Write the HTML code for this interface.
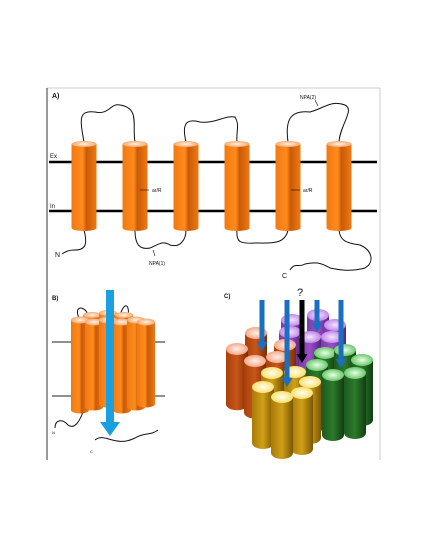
<!DOCTYPE html>
<html><head><meta charset="utf-8"><style>
body{margin:0;background:#fff;}
svg{display:block;font-family:"Liberation Sans",sans-serif;}
</style></head><body>
<svg id="fig" width="425" height="550" viewBox="0 0 425 550">
<defs>
<linearGradient id="gO" x1="0" x2="1"><stop offset="0" stop-color="#f07a12"/><stop offset="0.45" stop-color="#ff8a1c"/><stop offset="0.6" stop-color="#c85a08"/><stop offset="1" stop-color="#f07a12"/></linearGradient>
<radialGradient id="tO"><stop offset="0" stop-color="#fff2e0"/><stop offset="1" stop-color="#f6a870"/></radialGradient>
<linearGradient id="gBr" x1="0" x2="1"><stop offset="0" stop-color="#a8400a"/><stop offset="0.5" stop-color="#c9561a"/><stop offset="1" stop-color="#7a2c05"/></linearGradient>
<radialGradient id="tBr"><stop offset="0" stop-color="#fff0e8"/><stop offset="1" stop-color="#f4a888"/></radialGradient>
<linearGradient id="gP" x1="0" x2="1"><stop offset="0" stop-color="#7a3aa8"/><stop offset="0.5" stop-color="#9a50c8"/><stop offset="1" stop-color="#5a2080"/></linearGradient>
<radialGradient id="tP"><stop offset="0" stop-color="#f4e4ff"/><stop offset="1" stop-color="#c088e8"/></radialGradient>
<linearGradient id="gG" x1="0" x2="1"><stop offset="0" stop-color="#1e5a1e"/><stop offset="0.5" stop-color="#2c7a2c"/><stop offset="1" stop-color="#123c12"/></linearGradient>
<radialGradient id="tG"><stop offset="0" stop-color="#e8ffe8"/><stop offset="1" stop-color="#6cc86c"/></radialGradient>
<linearGradient id="gY" x1="0" x2="1"><stop offset="0" stop-color="#a87a08"/><stop offset="0.5" stop-color="#d0a018"/><stop offset="1" stop-color="#7a5604"/></linearGradient>
<radialGradient id="tY"><stop offset="0" stop-color="#fffff0"/><stop offset="1" stop-color="#f8e070"/></radialGradient>
</defs>
<g stroke="#ccc" fill="none">
<line x1="47" y1="88" x2="380" y2="88"/><line x1="380" y1="88" x2="380" y2="460"/>
<line x1="47" y1="88" x2="47" y2="460" stroke="#333"/>
</g>
<g id="panelA"></g>
<g id="panelB"></g>
<g id="panelC"></g>
</svg>
<script>
const NS="http://www.w3.org/2000/svg";
const tmCenters=[84,135,186,237,288,339];
function mk(p,tag,at){const e=document.createElementNS(NS,tag);for(const k in at)e.setAttribute(k,at[k]);p.appendChild(e);return e;}
function cyl(p,cx,top,bot,r,ry,g,t){const grp=mk(p,'g',{});


mk(grp,'rect',{x:cx-r,y:top,width:2*r,height:bot-top,fill:'url(#'+g+')'});
mk(grp,'ellipse',{cx:cx,cy:bot,rx:r,ry:ry,fill:'url(#'+g+')'});
mk(grp,'ellipse',{cx:cx,cy:top,rx:r,ry:ry,fill:'url(#'+t+')'});return grp;}
function txt(p,x,y,s,sz,name,w){const e=mk(p,'text',{x:x,y:y,'font-size':sz,'font-weight':w||'normal',fill:'#111'});e.textContent=s;

return e;}
function path(p,d,name,sw){const e=mk(p,'path',{d:d,fill:'none',stroke:'#111','stroke-width':sw||1});

return e;}
// Panel A
const A=document.getElementById('panelA');
txt(A,52,98,'A)',7,'panel-a-label','bold');
path(A,'M84,142 C80,120 78,110 95,112 C110,115 110,103 120,105 C140,108 132,125 135,142','extracellular-loop-a');
path(A,'M186,142 C182,125 185,118 200,122 C215,124 225,115 235,117 C240,125 236,130 237,142','extracellular-loop-c');
path(A,'M288,142 C285,120 290,110 310,112 C325,108 330,100 345,105 C355,110 340,125 339,142','extracellular-loop-e');
path(A,'M84,230 C88,245 85,250 75,250 C68,250 65,252 62,254','n-terminus-tail');
path(A,'M135,230 C135,245 140,250 150,248 C158,245 162,240 170,245 C180,248 186,240 186,230','intracellular-loop-b');
path(A,'M237,230 C236,242 240,244 255,243 C270,243 285,245 288,230','intracellular-loop-d');
path(A,'M339,230 C340,240 345,243 360,245 C372,250 375,262 365,268 C350,272 340,270 330,268 C320,262 315,262 305,264 C298,268 295,262 290,270','c-terminus-tail');
const ex=mk(A,'line',{x1:49,y1:162,x2:377,y2:162,stroke:'#000','stroke-width':2.5});


const inl=mk(A,'line',{x1:49,y1:211,x2:377,y2:211,stroke:'#000','stroke-width':2.5});


tmCenters.forEach(c=>cyl(A,c,144,228,12.5,3,'gO','tO'));
txt(A,50,158,'Ex',6,'extracellular-label');
txt(A,50,208,'In',6,'intracellular-label');
txt(A,55,257,'N',7,'n-terminus-label');
txt(A,282,278,'C',7,'c-terminus-label');
txt(A,149,265,'NPA(1)',5,'npa1-label');
txt(A,300,99,'NPA(2)',5,'npa2-label');
txt(A,152,192,'ar/R',5,'ar-r-label-1');
txt(A,303,192,'ar/R',5,'ar-r-label-2');
path(A,'M140,190 L149,190','ar-r-pointer-1',0.6);path(A,'M291,190 L300,190','ar-r-pointer-2',0.6);
path(A,'M155,256 L153,250','npa1-pointer',0.6);path(A,'M315,100 L318,106','npa2-pointer',0.6);
// Panel B
const B=document.getElementById('panelB');
txt(B,52,300,'B)',6,'panel-b-label','bold');
mk(B,'line',{x1:52,y1:342,x2:165,y2:342,stroke:'#222'});
mk(B,'line',{x1:52,y1:396,x2:165,y2:396,stroke:'#222'});
path(B,'M80,320 C72,305 85,305 88,315 M120,315 C125,300 130,305 128,318','bundle-top-loops');
path(B,'M55,428 C55,420 62,418 68,425 C75,430 80,420 83,412 M95,440 C105,432 115,448 135,438 C145,432 150,436 158,430','bundle-tails');
[[92,315],[108,313],[124,315]].forEach(v=>cyl(B,v[0],v[1],v[1]+20,9,3,'gO','tO'));
[[80,150],[94,148],[108,152],[122,150],[136,147],[146,146]].forEach((v,i)=>cyl(B,v[0],320+(i%2)*2,410-(i%3)*3,9,3.5,'gO','tO'));
const ab=mk(B,'path',{d:'M106,290 h8 v132 h6 l-10,14 l-10,-14 h6 z',fill:'#1aa0e0'});


txt(B,52,434,'N',4,'n-label-b');txt(B,90,453,'C',4,'c-label-b');
// Panel C
const C=document.getElementById('panelC');
txt(C,224,298,'C)',6,'panel-c-label','bold');
txt(C,297,296,'?',11,'question-mark');
const purple=[[318,315],[292,320],[335,325],[290,332],[310,337],[332,337]];
const orange=[[256,333],[237,349],[285,345],[277,357],[255,361]];
const green=[[325,353],[345,350],[362,360],[317,365],[355,373],[333,375]];
const yellow=[[272,373],[295,372],[310,382],[302,393],[263,387],[282,397]];
purple.forEach(v=>cyl(C,v[0],v[1],v[1]+50,11,6,'gP','tP'));
orange.forEach(v=>cyl(C,v[0],v[1],v[1]+60-(v[1]-333)*0.3,11,6,'gBr','tBr'));
green.forEach(v=>cyl(C,v[0],v[1],v[1]+60,11,6,'gG','tG'));
yellow.forEach(v=>cyl(C,v[0],v[1],v[1]+56,11,6,'gY','tY'));
function arrow(x,y1,y2,col,name){const e=mk(C,'path',{d:`M${x-2.5},${y1} h5 v${y2-y1-8} h3 l-5.5,9 l-5.5,-9 h3 z`,fill:col});

}
arrow(262,300,350,'#1a6fc0','water-arrow-1');arrow(287,300,386,'#1a6fc0','water-arrow-2');
arrow(302,300,362,'#000','unknown-solute-arrow');arrow(317,300,331,'#1a6fc0','water-arrow-3');
arrow(341,300,367,'#1a6fc0','water-arrow-4');
</script>
</body></html>
